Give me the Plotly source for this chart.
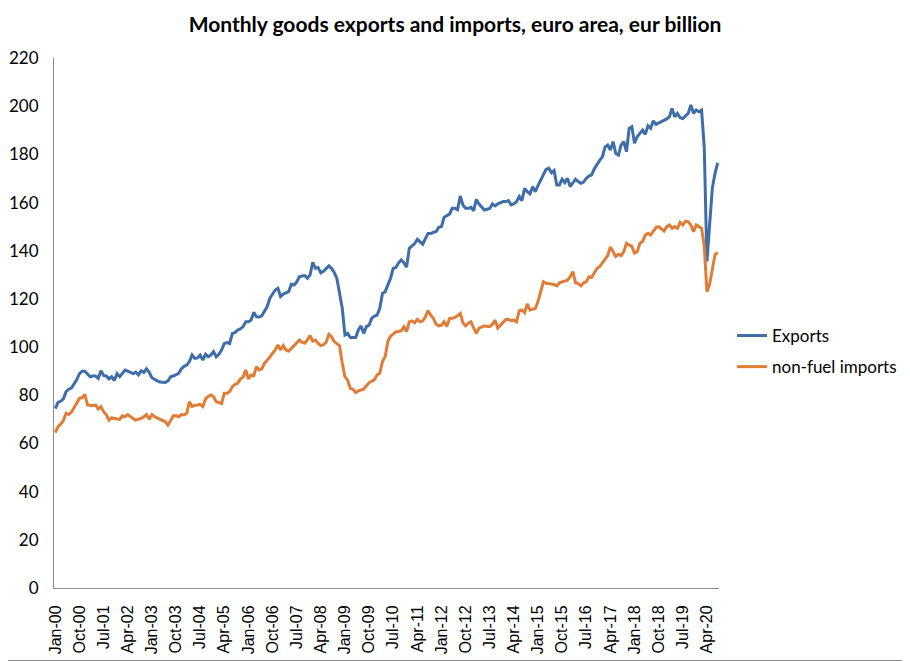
import plotly.graph_objects as go

MONTH_NAMES = ["Jan", "Feb", "Mar", "Apr", "May", "Jun", "Jul", "Aug", "Sep", "Oct", "Nov", "Dec"]
months = [f"{m}-{y:02d}" for y in range(0, 21) for m in MONTH_NAMES][:248]  # Jan-00 .. Aug-20

exports = [
    74.5, 77, 77.5, 78.5, 81.5, 82.5, 83, 84.5, 86.5, 89, 90, 90,              # 2000
    89, 87.7, 88, 88, 87, 90.2, 88.2, 88, 86.8, 87.7, 86.1, 89,                # 2001
    87.7, 89, 90.5, 90, 89.5, 89, 89.6, 88.5, 90.2, 89.5, 91, 89.5,            # 2002
    87.3, 86.5, 86, 85.5, 85.4, 85.3, 86, 87.7, 88, 88.4, 89.1, 91,            # 2003
    92, 92.5, 94, 96.7, 95.3, 95.5, 96.7, 94.6, 97, 96, 96.7, 98.1,            # 2004
    96, 97, 98.8, 101.5, 101.9, 101.5, 105.7, 106, 107.1, 107.5, 108.5, 110.5, # 2005
    110.5, 111.2, 114.4, 112.6, 112.5, 113, 115, 116.8, 120.3, 122, 123.7, 124.4,  # 2006
    121, 122, 122.4, 123, 126.1, 125.8, 127, 129.2, 129.5, 129.7, 128.6, 130,  # 2007
    135.2, 132.7, 133, 130.8, 131.5, 132.7, 133.7, 132.7, 131, 128.5, 122.3, 116.1,  # 2008
    105, 105.7, 104, 104, 104, 107.1, 108.8, 105.7, 108.5, 109.1, 112, 112.9,  # 2009
    113.3, 116.1, 122.3, 123, 125.8, 128.5, 132.7, 133, 135, 136.2, 135, 133.2,  # 2010
    141, 142, 143, 144.7, 143.6, 142.7, 145, 147.2, 147.2, 147.5, 148, 149.7,  # 2011
    150, 153.9, 154.5, 155.2, 157.6, 157.6, 157, 162.7, 159, 157.6, 157.6, 158,  # 2012
    156.6, 161.3, 159.4, 158, 156.9, 157.2, 157.5, 159.4, 158.6, 159.5, 160, 160.4,  # 2013
    160.4, 160.8, 159, 159.5, 160.4, 162.5, 160.8, 165.9, 164.5, 163.6, 166.6, 164.5,  # 2014
    167, 169.4, 172, 173.8, 174.3, 172.4, 173.3, 167.3, 167.3, 169.7, 168.3, 170.1,  # 2015
    166.6, 168, 169.7, 168.7, 168, 168.5, 170.1, 171, 171.5, 174, 176, 177.5,  # 2016
    179, 183, 183.9, 181.8, 185.3, 180.4, 179.7, 183.9, 185.3, 181.1, 190.8, 191.5,  # 2017
    184.6, 187.3, 188.7, 190.1, 188.3, 191.9, 190.8, 193.9, 192.5, 193, 193.6, 194.3,  # 2018
    194.7, 195.6, 199.1, 195.6, 197, 195.2, 194.9, 196, 197, 200.5, 197, 198.4,  # 2019
    197.7, 198.4, 183, 135.5, 152, 166, 172, 176.5,                            # 2020
]

imports = [
    64.5, 67, 68, 69.5, 72.5, 72, 73, 75, 77.3, 78.7, 79, 80.4,                # 2000
    76, 75.7, 75.7, 76, 74.3, 75.3, 73.2, 72, 69.7, 70.6, 70.5, 70.4,          # 2001
    70, 71.5, 71.1, 72, 71, 70.4, 69.7, 70, 70.4, 71.1, 72, 70,                # 2002
    72, 71.1, 70.5, 70, 69.5, 69, 67.6, 69.7, 71.5, 71.5, 71.1, 72,            # 2003
    71.8, 72.5, 77.3, 75.3, 75.9, 76, 76.2, 75.3, 78.5, 79.5, 80.1, 79.4,      # 2004
    77.3, 77, 76.6, 80.8, 80.8, 81.5, 83.6, 84.5, 85, 86.8, 87.5, 90.5,        # 2005
    86.8, 88.4, 88.1, 91.9, 90.5, 91, 93.3, 94.5, 96, 97.5, 98.8, 100.9,       # 2006
    98.8, 100.6, 98.8, 98.3, 99.5, 100.5, 101.6, 102.9, 102, 101.6, 103, 104.8,  # 2007
    102.5, 102.9, 101.5, 100.6, 101, 102, 105.3, 104.3, 102.3, 101.5, 100.5, 93.3,  # 2008
    87.7, 86.3, 82.9, 82.5, 81.1, 81.8, 82.2, 82.5, 84, 85.2, 85.8, 86.5,      # 2009
    88.5, 89.1, 94, 96, 102.3, 104.5, 105.4, 106.4, 106.5, 106.8, 108.5, 106.4,  # 2010
    110.5, 110.9, 110.1, 111.5, 110.5, 110.9, 112.5, 115.1, 113.3, 111.9, 109.5, 108.8,  # 2011
    109.1, 110.5, 108.5, 111.9, 112, 112.3, 113, 114, 110.1, 108.8, 109.9, 110.5,  # 2012
    108, 105.7, 107.9, 108.5, 108.8, 108.5, 108.5, 109.5, 111.2, 107.9, 109, 110.1,  # 2013
    111.5, 111.5, 111, 111.2, 110.5, 115.1, 115.4, 114.3, 117.9, 115.4, 115.7, 116,  # 2014
    118.9, 123, 127.1, 126.5, 126.2, 126.2, 126, 125.4, 126.7, 127.1, 127.5, 127.8,  # 2015
    129.2, 131.3, 126.7, 126.4, 125.4, 126.7, 127.1, 129.2, 128.9, 131, 132.7, 133.4,  # 2016
    134.8, 136.5, 138, 141.6, 139.6, 137.6, 138.5, 138, 139.6, 143.1, 142.4, 141.8,  # 2017
    139, 139.6, 143.1, 143.8, 146.5, 147.2, 146.5, 147.9, 149.6, 150, 149.1, 148.2,  # 2018
    150, 150.7, 149.3, 150, 149.3, 151.8, 150.7, 152.3, 152, 150.7, 147.9, 150.7,  # 2019
    150, 149.3, 142, 123, 126, 132.7, 138.3, 139.3,                            # 2020
]

tick_labels = ["Jan-00", "Oct-00", "Jul-01", "Apr-02", "Jan-03", "Oct-03", "Jul-04",
               "Apr-05", "Jan-06", "Oct-06", "Jul-07", "Apr-08", "Jan-09", "Oct-09",
               "Jul-10", "Apr-11", "Jan-12", "Oct-12", "Jul-13", "Apr-14", "Jan-15",
               "Oct-15", "Jul-16", "Apr-17", "Jan-18", "Oct-18", "Jul-19", "Apr-20"]

BLUE = "#3E6DAA"
ORANGE = "#E17C36"
AXIS = "#8C8C8C"

fig = go.Figure()
fig.add_trace(go.Scatter(x=months, y=exports, mode="lines", name="Exports",
                         line=dict(color=BLUE, width=3), legendgroup="a"))
fig.add_trace(go.Scatter(x=months, y=imports, mode="lines", name="non-fuel imports",
                         line=dict(color=ORANGE, width=3), legendgroup="b"))

# page body adds an 8px offset; figure is sized to fill the rest of the window
OFF = 8
W, H = 910 - OFF, 661 - OFF
L, R, T, B = 54 - OFF, 191, 58 - OFF, 73
pw, ph = W - L - R, H - T - B

fig.update_layout(
    width=W, height=H,
    margin=dict(l=L, r=R, t=T, b=B, pad=0, autoexpand=False),
    paper_bgcolor="white", plot_bgcolor="white",
    title=dict(text="<b>Monthly goods exports and imports, euro area, eur billion</b>",
               x=(455 - OFF) / W, xref="container", xanchor="center",
               y=1 - (25 - OFF) / H, yref="container", yanchor="middle",
               font=dict(family="Lato", size=21, color="black")),
    showlegend=True,
    legend=dict(x=(732 - OFF - L) / pw, xanchor="left", y=(588 - 318) / ph, yanchor="top",
                font=dict(family="Lato", size=17, color="black"),
                tracegroupgap=6, bgcolor="rgba(0,0,0,0)", itemwidth=30),
    xaxis=dict(type="category", range=[-0.5, len(months) - 0.5],
               tickmode="array", tickvals=tick_labels, ticktext=tick_labels,
               tickangle=-90, tickfont=dict(family="Liberation Sans, Arial", size=16, color="black"),
               showline=True, linecolor=AXIS, linewidth=1, ticks="",
               showgrid=False, zeroline=False, ticklabelstandoff=10),
    yaxis=dict(range=[0, 220], tickmode="linear", tick0=0, dtick=20,
               tickfont=dict(family="Lato", size=17, color="black"),
               showline=True, linecolor=AXIS, linewidth=1, ticks="",
               showgrid=False, zeroline=False, ticklabelstandoff=11),
    shapes=[
        # right and bottom edges of the chart-area border
        dict(type="line", xref="paper", yref="paper",
             x0=(W - 0.5 - L) / pw, x1=(W - 0.5 - L) / pw,
             y0=(-B + 0.5) / ph, y1=(ph + T) / ph,
             line=dict(color=AXIS, width=1)),
        dict(type="line", xref="paper", yref="paper",
             x0=-L / pw, x1=(W - L) / pw,
             y0=(-B + 0.5) / ph, y1=(-B + 0.5) / ph,
             line=dict(color=AXIS, width=1)),
    ],
)

fig.write_html("out.html")
